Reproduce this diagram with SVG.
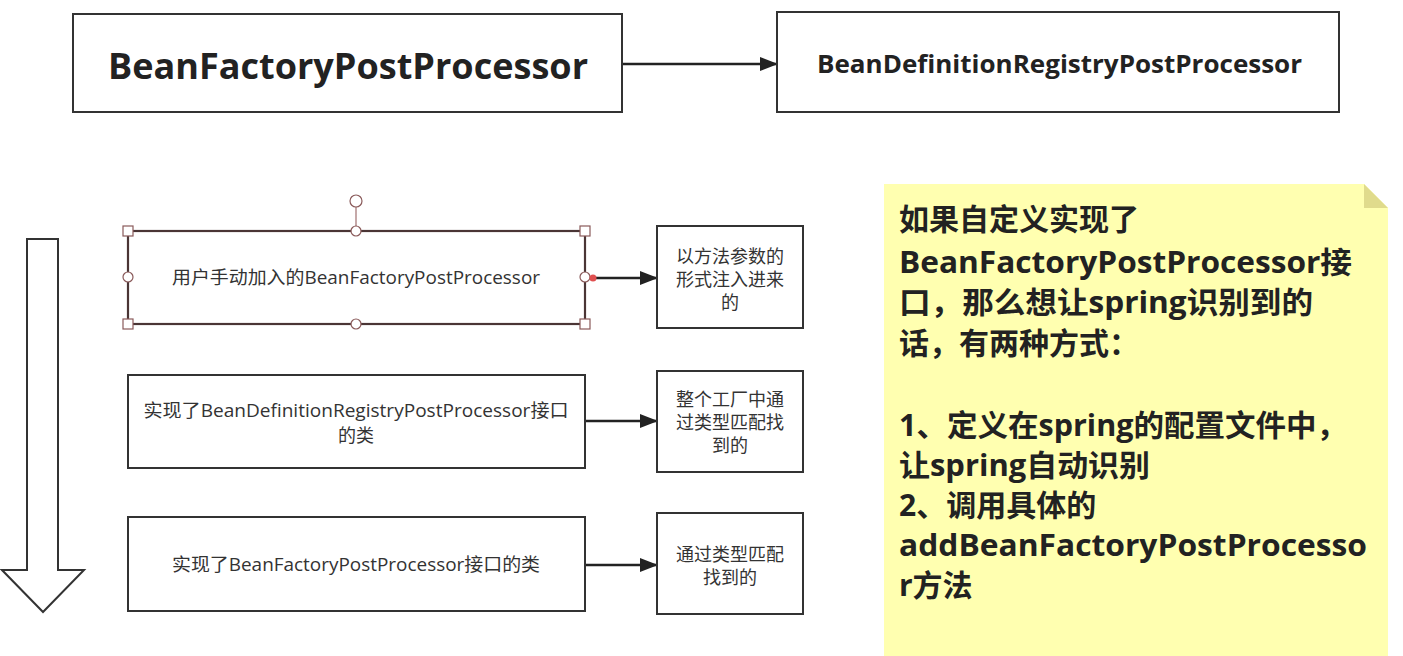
<svg xmlns="http://www.w3.org/2000/svg" width="1403" height="656" viewBox="0 0 1403 656">
<defs>
<marker id="ah2" markerWidth="18" markerHeight="14" refX="17" refY="7" orient="auto" markerUnits="userSpaceOnUse">
<path d="M0,0 L18,7 L0,14 z" fill="#222"/>
</marker>
</defs>
<style>
.box{fill:#fff;stroke:#333;stroke-width:2}
.t{font-family:"Open Sans","Noto Sans CJK SC",sans-serif;fill:#333;font-size:18px;text-anchor:middle}
.big{font-family:"Open Sans","Noto Sans CJK SC",sans-serif;fill:#222;font-weight:bold}
.note{font-family:"Open Sans","Noto Sans CJK SC",sans-serif;fill:#222;font-weight:bold;font-size:30px}
.conn{stroke:#222;stroke-width:2.5;fill:none}
.hs{fill:#fff;stroke:#8a5a5a;stroke-width:1.2}
</style>
<rect width="1403" height="656" fill="#fff"/>

<g id="connectors">
<line class="conn" x1="622" y1="64" x2="777" y2="64" stroke-width="2" marker-end="url(#ah2)"/>
<line class="conn" x1="590" y1="278" x2="657" y2="278" marker-end="url(#ah2)"/>
<line class="conn" x1="585" y1="421" x2="657" y2="421" marker-end="url(#ah2)"/>
<line class="conn" x1="585" y1="565" x2="657" y2="565" marker-end="url(#ah2)"/>
</g>

<g id="node-bfpp">
<rect class="box" x="73" y="14" width="549" height="98"/>
<text class="big" x="108" y="79" font-size="36" textLength="480" lengthAdjust="spacingAndGlyphs">BeanFactoryPostProcessor</text>
</g>

<g id="node-bdrpp">
<rect class="box" x="777" y="12" width="562" height="100"/>
<text class="big" x="817" y="73" font-size="25" textLength="485" lengthAdjust="spacingAndGlyphs">BeanDefinitionRegistryPostProcessor</text>
</g>

<g id="down-arrow">
<path d="M27,239 L58,239 L58,570 L84,570 L43,612 L2,570 L27,570 Z" fill="#fff" stroke="#333" stroke-width="2"/>
</g>

<g id="node-manual">
<rect x="128" y="231" width="457" height="93" fill="#fff" stroke="#4a3535" stroke-width="2.2"/>
<text class="t" x="356" y="284" textLength="368" lengthAdjust="spacingAndGlyphs">用户手动加入的BeanFactoryPostProcessor</text>
<line x1="356" y1="207" x2="356" y2="231" stroke="#a07070" stroke-width="1.2"/>
<circle class="hs" cx="356" cy="201" r="6"/>
<rect class="hs" x="123" y="226" width="10" height="10"/>
<rect class="hs" x="580" y="226" width="10" height="10"/>
<rect class="hs" x="123" y="319" width="10" height="10"/>
<rect class="hs" x="580" y="319" width="10" height="10"/>
<circle class="hs" cx="356" cy="231" r="5"/>
<circle class="hs" cx="356" cy="324" r="5"/>
<circle class="hs" cx="128" cy="277" r="5"/>
<circle class="hs" cx="585" cy="277" r="5"/>
<circle cx="593" cy="278" r="3.5" fill="#e05050"/>
</g>

<g id="node-param">
<rect class="box" x="657" y="226" width="146" height="102"/>
<text class="t" x="730" y="263">以方法参数的</text>
<text class="t" x="730" y="286">形式注入进来</text>
<text class="t" x="730" y="309">的</text>
</g>

<g id="node-registry">
<rect class="box" x="128" y="375" width="457" height="93"/>
<text class="t" x="356" y="417" textLength="425" lengthAdjust="spacingAndGlyphs">实现了BeanDefinitionRegistryPostProcessor接口</text>
<text class="t" x="356" y="442">的类</text>
</g>

<g id="node-factory-match">
<rect class="box" x="657" y="371" width="146" height="101"/>
<text class="t" x="730" y="406">整个工厂中通</text>
<text class="t" x="730" y="429">过类型匹配找</text>
<text class="t" x="730" y="452">到的</text>
</g>

<g id="node-impl">
<rect class="box" x="128" y="517" width="457" height="94"/>
<text class="t" x="356" y="571" textLength="368" lengthAdjust="spacingAndGlyphs">实现了BeanFactoryPostProcessor接口的类</text>
</g>

<g id="node-type-match">
<rect class="box" x="657" y="513" width="146" height="101"/>
<text class="t" x="730" y="561">通过类型匹配</text>
<text class="t" x="730" y="584">找到的</text>
</g>

<g id="note">
<path d="M884,184 L1364,184 L1388,208 L1388,656 L884,656 Z" fill="#ffffb0"/>
<path d="M1364,184 L1388,208 L1364,208 Z" fill="#e0db8c"/>
<text class="note" x="899" y="230">如果自定义实现了</text>
<text class="note" x="899" y="273" textLength="453" lengthAdjust="spacingAndGlyphs">BeanFactoryPostProcessor接</text>
<text class="note" x="899" y="313" textLength="414" lengthAdjust="spacingAndGlyphs">口，那么想让spring识别到的</text>
<text class="note" x="899" y="354">话，有两种方式：</text>
<text class="note" x="899" y="436" textLength="448" lengthAdjust="spacingAndGlyphs">1、定义在spring的配置文件中，</text>
<text class="note" x="899" y="476" textLength="251" lengthAdjust="spacingAndGlyphs">让spring自动识别</text>
<text class="note" x="899" y="516">2、调用具体的</text>
<text class="note" x="899" y="556" textLength="468" lengthAdjust="spacingAndGlyphs">addBeanFactoryPostProcesso</text>
<text class="note" x="899" y="596">r方法</text>
</g>
</svg>
